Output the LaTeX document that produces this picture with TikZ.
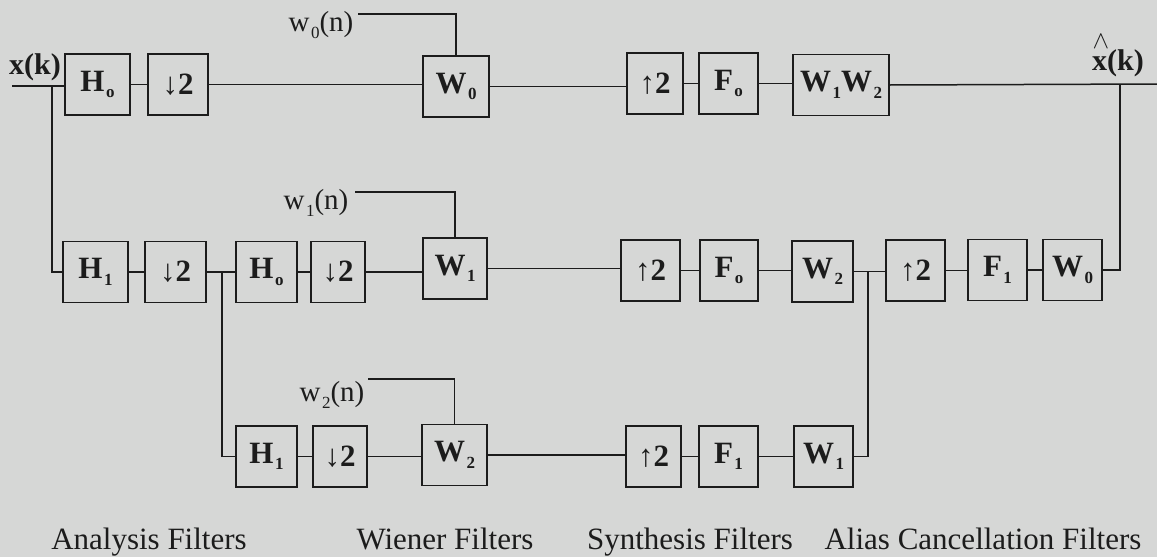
\documentclass[tikz,border=0pt]{standalone}
\usepackage{fontspec}
\setmainfont{Liberation Serif}
\definecolor{bg}{RGB}{214,215,214}
\definecolor{ink}{RGB}{28,28,28}
\newcommand{\sbs}[1]{\kern1.5pt\raisebox{-6.5pt}{\fontsize{17}{17}\selectfont #1}}
\tikzset{
  blk/.style={draw=ink, line width=1.5pt, minimum height=61pt, inner sep=0pt,
              text=ink, font=\fontsize{31}{31}\selectfont\bfseries},
  wire/.style={draw=ink, line width=1.5pt},
  sig/.style={inner sep=0pt, text=ink, font=\fontsize{30}{30}\selectfont\bfseries},
  wlbl/.style={inner sep=0pt, text=ink, font=\fontsize{29}{29}\selectfont},
  captxt/.style={inner sep=0pt, anchor=base, text=ink, font=\fontsize{31}{31}\selectfont}
}
\begin{document}
\begin{tikzpicture}[x=1pt,y=-1pt]
\fill[bg] (0,0) rectangle (1157,557);
\useasboundingbox (0,0) rectangle (1157,557);

% row 1
\node[blk,minimum width=65pt] (H0a) at (97.5,84.5) {H\sbs{o}};
\node[blk,minimum width=60pt] (D1a) at (178,84.5) {↓2};
\node[blk,minimum width=66pt] (W0a) at (456,86.5) {W\sbs{0}};
\node[blk,minimum width=56pt] (U1a) at (655,83.5) {↑2};
\node[blk,minimum width=59pt] (F0a) at (728.5,83.5) {F\sbs{o}};
\node[blk,minimum width=96pt] (W12) at (841,85) {W\sbs{1}W\sbs{2}};

% row 2
\node[blk,minimum width=65pt] (H1b) at (95.5,272) {H\sbs{1}};
\node[blk,minimum width=61pt] (D1b) at (175.5,272) {↓2};
\node[blk,minimum width=61pt] (H0b) at (266.5,272) {H\sbs{o}};
\node[blk,minimum width=54pt] (D2b) at (338,272) {↓2};
\node[blk,minimum width=64pt] (W1b) at (455,268.5) {W\sbs{1}};
\node[blk,minimum width=59pt] (U1b) at (650.5,270.5) {↑2};
\node[blk,minimum width=58pt] (F0b) at (729,270.5) {F\sbs{o}};
\node[blk,minimum width=61pt] (W2b) at (822.5,271.5) {W\sbs{2}};
\node[blk,minimum width=59pt] (U2b) at (915.5,270.5) {↑2};
\node[blk,minimum width=59pt] (F1b) at (997.5,270) {F\sbs{1}};
\node[blk,minimum width=59pt] (W0b) at (1072.5,270) {W\sbs{0}};

% row 3
\node[blk,minimum width=61pt] (H1c) at (266.5,456.5) {H\sbs{1}};
\node[blk,minimum width=54pt] (D1c) at (340,456.5) {↓2};
\node[blk,minimum width=65pt] (W2c) at (454.5,455) {W\sbs{2}};
\node[blk,minimum width=55pt] (U1c) at (653.5,456.5) {↑2};
\node[blk,minimum width=59pt] (F1c) at (728.5,456.5) {F\sbs{1}};
\node[blk,minimum width=59pt] (W1c) at (823.5,456.5) {W\sbs{1}};

% signal labels
\node[sig] (xk) at (35,67) {x(k)};
\node[sig] (xh) at (1118,63) {x(k)};
\node[inner sep=0pt,text=ink,font=\fontsize{34}{34}\selectfont] (hat) at (1101,42) {$\wedge$};
\node[wlbl] (w0) at (321,25) {w\sbs{0}(n)};
\node[wlbl] (w1) at (316,203) {w\sbs{1}(n)};
\node[wlbl] (w2) at (332,395) {w\sbs{2}(n)};

% captions
\node[captxt] (ca) at (149,549) {Analysis Filters};
\node[captxt] (cw) at (445,549) {Wiener Filters};
\node[captxt] (cs) at (690,549) {Synthesis Filters};
\node[captxt] (cc) at (983,549) {Alias Cancellation Filters};

% coordinates
\coordinate (in) at (12,86);
\coordinate (out) at (1157,84);
\coordinate (j1) at (52,86);
\coordinate (j2) at (222,272);
\coordinate (j3) at (868,272);
\coordinate (j4) at (1120,84);
\coordinate (s0) at (358,14);
\coordinate (s1) at (355,192);
\coordinate (s2) at (368,379);

% row 1 wires
\draw[wire] (in) -- (in -| H0a.west);
\draw[wire] (H0a.east) -- (H0a.east -| D1a.west);
\draw[wire] (D1a.east) -- (D1a.east -| W0a.west);
\draw[wire] (W0a.east) -- (W0a.east -| U1a.west);
\draw[wire] (U1a.east) -- (U1a.east -| F0a.west);
\draw[wire] (F0a.east) -- (F0a.east -| W12.west);
\draw[wire] (W12.east) -- (out);
\draw[wire] (s0) -| (W0a.north);

% row 2 wires
\draw[wire] (j1) |- (H1b.west);
\draw[wire] (H1b.east) -- (H1b.east -| D1b.west);
\draw[wire] (D1b.east) -- (D1b.east -| H0b.west);
\draw[wire] (H0b.east) -- (H0b.east -| D2b.west);
\draw[wire] (D2b.east) -- (D2b.east -| W1b.west);
\draw[wire] (W1b.east) -- (W1b.east -| U1b.west);
\draw[wire] (U1b.east) -- (U1b.east -| F0b.west);
\draw[wire] (F0b.east) -- (F0b.east -| W2b.west);
\draw[wire] (W2b.east) -- (W2b.east -| U2b.west);
\draw[wire] (U2b.east) -- (U2b.east -| F1b.west);
\draw[wire] (F1b.east) -- (F1b.east -| W0b.west);
\draw[wire] (W0b.east) -| (j4);
\draw[wire] (s1) -| (W1b.north);

% row 3 wires
\draw[wire] (j2) |- (H1c.west);
\draw[wire] (H1c.east) -- (H1c.east -| D1c.west);
\draw[wire] (D1c.east) -- (D1c.east -| W2c.west);
\draw[wire] (W2c.east) -- (W2c.east -| U1c.west);
\draw[wire] (U1c.east) -- (U1c.east -| F1c.west);
\draw[wire] (F1c.east) -- (F1c.east -| W1c.west);
\draw[wire] (W1c.east) -| (j3);
\draw[wire] (s2) -| (W2c.north);
\end{tikzpicture}
\end{document}
